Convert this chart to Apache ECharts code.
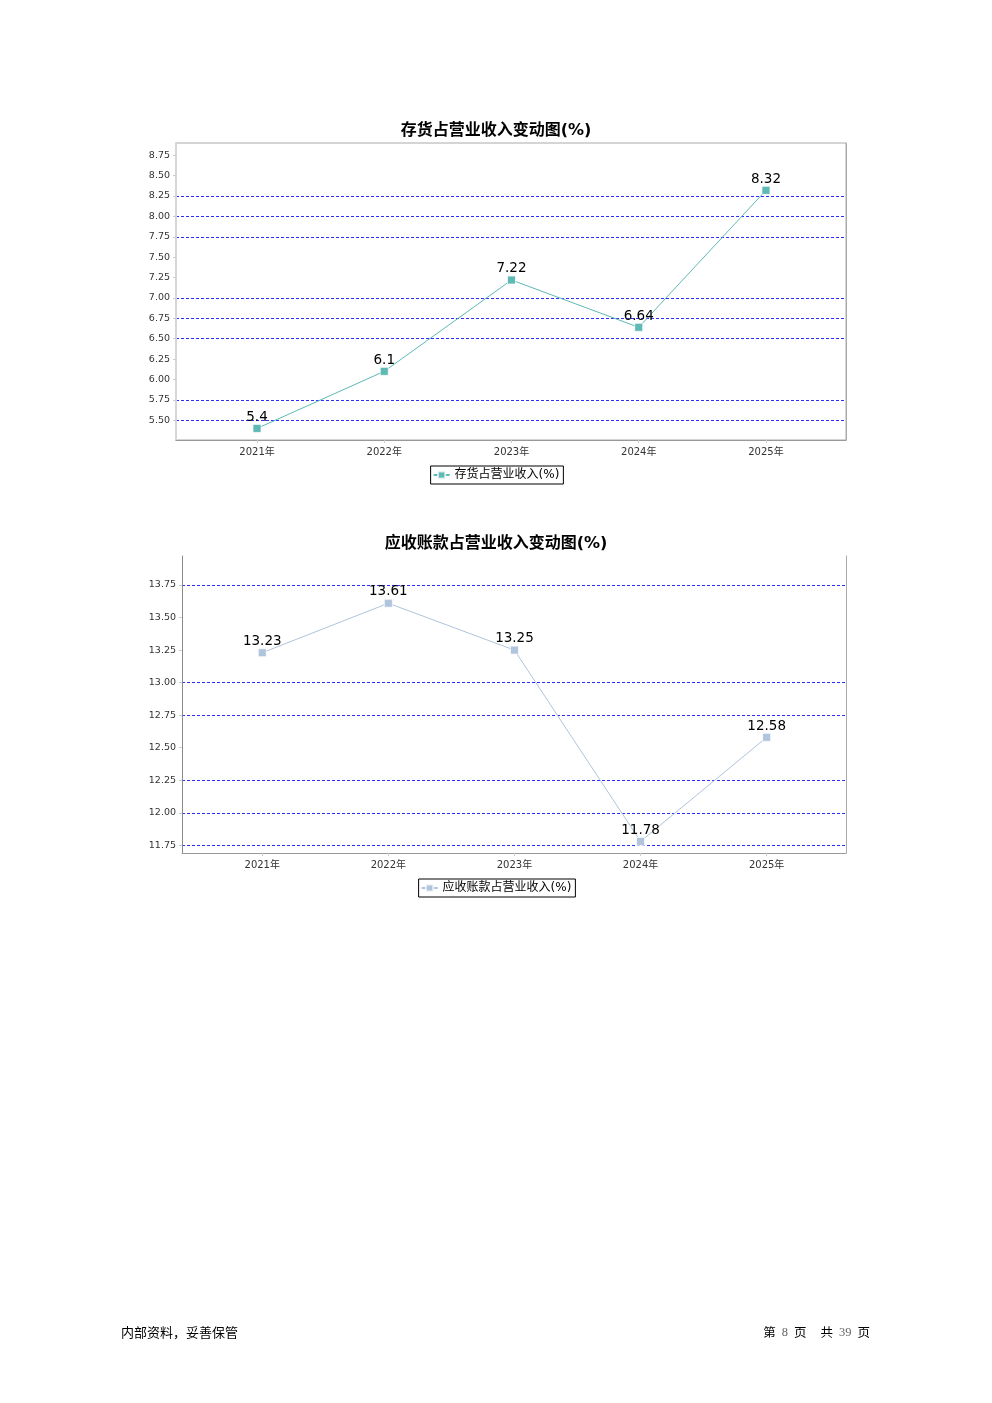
<!DOCTYPE html>
<html>
<head>
<meta charset="utf-8">
<script src="https://cdn.jsdelivr.net/npm/echarts@6/dist/echarts.min.js"></script>
<style>
html,body{margin:0;padding:0;background:#fff;}
#main{width:992px;height:1403px;}
</style>
</head>
<body>
<div id="main"></div>
<script>
// ---- data ----
const years = ['2021年', '2022年', '2023年', '2024年', '2025年'];
const inventoryName = '存货占营业收入(%)';
const inventoryValues = [5.4, 6.1, 7.22, 6.64, 8.32];
const inventoryTitle = '存货占营业收入变动图(%)';
const inventoryTicks = [5.5, 5.75, 6.0, 6.25, 6.5, 6.75, 7.0, 7.25, 7.5, 7.75, 8.0, 8.25, 8.5, 8.75];
const inventoryGridLines = [5.5, 5.75, 6.5, 6.75, 7.0, 7.75, 8.0, 8.25];
const inventoryAxisRange = [5.258, 8.90];

const receivableName = '应收账款占营业收入(%)';
const receivableValues = [13.23, 13.61, 13.25, 11.78, 12.58];
const receivableTitle = '应收账款占营业收入变动图(%)';
const receivableTicks = [11.75, 12.0, 12.25, 12.5, 12.75, 13.0, 13.25, 13.5, 13.75];
const receivableGridLines = [11.75, 12.0, 12.25, 12.75, 13.0, 13.75];
const receivableAxisRange = [11.691, 13.973];

const yStep = 0.25;
const footerLeft = '内部资料，妥善保管';
const pageNo = 8, pageTotal = 39;

// ---- chart ----
const FONT = 'DejaVu Sans, Noto Sans CJK SC, sans-serif';
const GRID_BLUE = '#2d2dff';
const chart = echarts.init(document.getElementById('main'), null, {renderer: 'canvas'});

function frameAxes(gridIdx, range, ticks, gridLines, withTop) {
  const colors = ticks.map(t => gridLines.indexOf(t) >= 0 ? GRID_BLUE : 'rgba(0,0,0,0)');
  return {
    x: {
      gridIndex: gridIdx, type: 'value', min: 0, max: 1, show: true,
      axisLine: {show: true, lineStyle: {color: '#999', width: 1}},
      axisTick: {show: false}, axisLabel: {show: false}, splitLine: {show: false}
    },
    yl: {
      gridIndex: gridIdx, type: 'value', position: 'left',
      min: range[0], max: range[1], minInterval: yStep, maxInterval: yStep,
      axisLine: {show: true, lineStyle: {color: withTop ? '#d6d6d6' : '#8a8a8a', width: withTop ? 2 : 1}},
      axisTick: {show: true, length: 3, lineStyle: {color: '#cccccc'}},
      axisLabel: {show: true, fontSize: 9.5, color: '#333', fontFamily: FONT, margin: 6,
        showMinLabel: false, showMaxLabel: false,
        formatter: v => v.toFixed(2)},
      splitLine: {show: true, showMinLine: false, showMaxLine: false,
        lineStyle: {type: [3, 2], width: 1, color: colors}}
    },
    yr: {
      gridIndex: gridIdx, type: 'value', position: 'right',
      min: range[0], max: range[1],
      axisLine: {show: true, lineStyle: {color: '#aaa', width: 1}},
      axisTick: {show: false}, axisLabel: {show: false}, splitLine: {show: false}
    }
  };
}

function dataAxes(gridIdx, range) {
  return {
    x: {
      gridIndex: gridIdx, type: 'category', data: years, boundaryGap: true,
      axisLine: {show: false},
      axisTick: {show: true, alignWithLabel: true, length: 3, lineStyle: {color: '#cccccc'}},
      axisLabel: {fontSize: 10, color: '#333', fontFamily: FONT, margin: 7},
      splitLine: {show: false}
    },
    y: {
      gridIndex: gridIdx, type: 'value', min: range[0], max: range[1], show: false,
      splitLine: {show: false}
    }
  };
}

const f1 = frameAxes(0, inventoryAxisRange, inventoryTicks, inventoryGridLines, true);
const d1 = dataAxes(1, inventoryAxisRange);
const f2 = frameAxes(2, receivableAxisRange, receivableTicks, receivableGridLines, false);
const d2 = dataAxes(3, receivableAxisRange);

function lineSeries(name, values, color, xi, yi) {
  return {
    name: name, type: 'line', xAxisIndex: xi, yAxisIndex: yi, data: values, z: 5,
    symbol: 'rect', symbolSize: 8,
    lineStyle: {color: color, width: 1},
    itemStyle: {color: color, borderColor: 'rgba(255,255,255,0.7)', borderWidth: 1},
    label: {show: true, position: 'top', distance: 0, fontSize: 13.5, color: '#000', fontFamily: FONT},
    emphasis: {disabled: true}
  };
}

const legendBase = {
  left: 'center', padding: [3, 4, 3, 2],
  borderColor: '#000', borderWidth: 1, itemWidth: 16, itemHeight: 9,
  textStyle: {fontSize: 12, color: '#000', fontFamily: FONT}, selectedMode: false
};

const option = {
  animation: false,
  backgroundColor: '#fff',
  title: [
    {text: inventoryTitle, left: 'center', top: 123, padding: 0,
      textStyle: {fontSize: 16, fontWeight: 'bold', color: '#000', fontFamily: FONT}},
    {text: receivableTitle, left: 'center', top: 536, padding: 0,
      textStyle: {fontSize: 16, fontWeight: 'bold', color: '#000', fontFamily: FONT}},
    {text: footerLeft, left: 121, top: 1326, padding: 0,
      textStyle: {fontSize: 13, fontWeight: 'normal', color: '#000', fontFamily: 'Noto Sans CJK SC'}},
    {text: '第{n|' + pageNo + '}页{s|}共{n|' + pageTotal + '}页', right: 122, top: 1326, padding: 0,
      textStyle: {fontSize: 12.5, fontWeight: 'normal', color: '#000', fontFamily: 'Noto Sans CJK SC',
        rich: {
          n: {fontSize: 12.5, color: '#666', fontFamily: 'Liberation Serif', padding: [0, 6, 0, 6]},
          s: {width: 14}
        }}}
  ],
  legend: [
    Object.assign({}, legendBase, {data: [inventoryName], top: 466}),
    Object.assign({}, legendBase, {data: [receivableName], top: 879})
  ],
  grid: [
    {left: 176, top: 143, width: 670, height: 297, show: true, borderColor: '#aaa', borderWidth: 1, containLabel: false},
    {left: 193.4, top: 143, width: 636.2, height: 297, containLabel: false},
    {left: 182, top: 556, width: 664, height: 297, show: false, containLabel: false},
    {left: 199.2, top: 556, width: 630.5, height: 297, containLabel: false}
  ],
  xAxis: [f1.x, d1.x, f2.x, d2.x],
  yAxis: [f1.yl, f1.yr, d1.y, f2.yl, f2.yr, d2.y],
  series: [
    lineSeries(inventoryName, inventoryValues, '#5fb9b5', 1, 2),
    lineSeries(receivableName, receivableValues, '#b0c4de', 3, 5)
  ]
};
chart.setOption(option);
</script>
</body>
</html>
